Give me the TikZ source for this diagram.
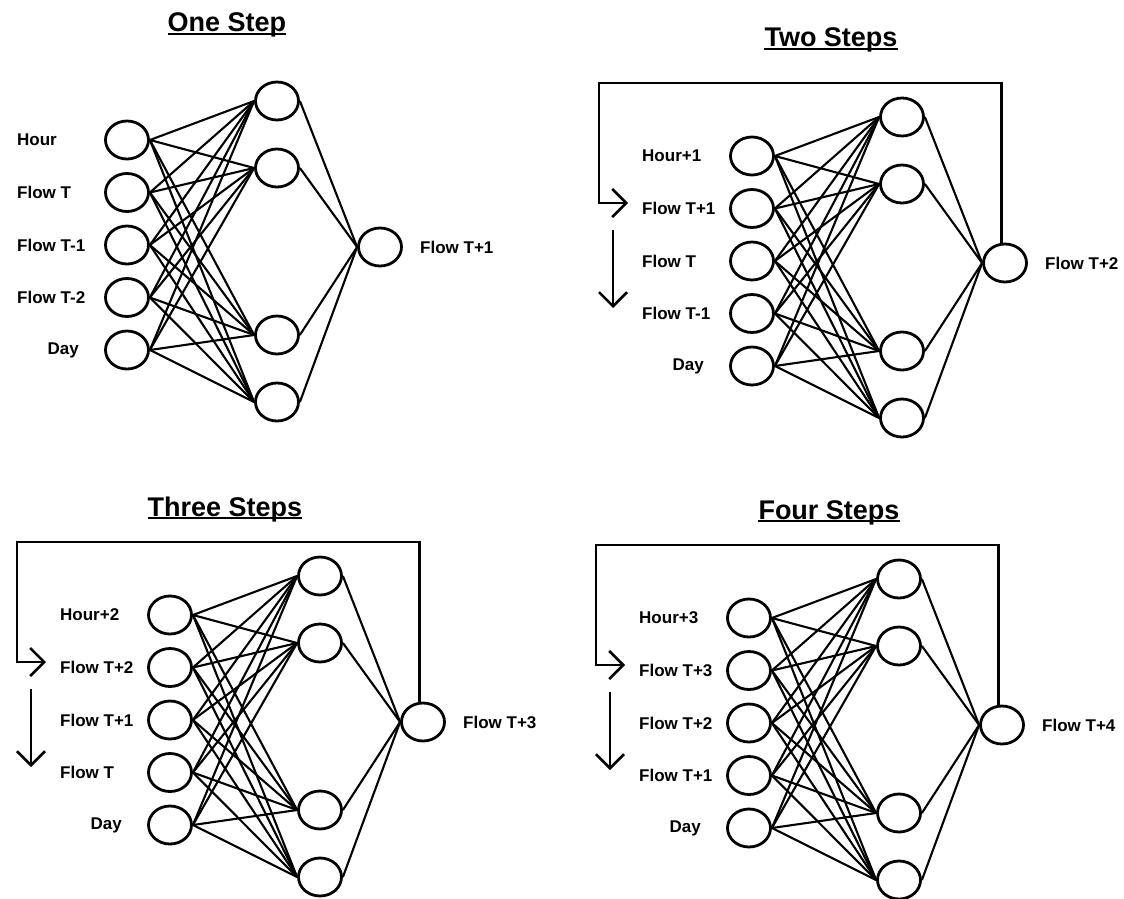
\documentclass[tikz,border=0pt]{standalone}
\usepackage{fontspec}
\setmainfont{Liberation Sans}
\usetikzlibrary{arrows.meta,shapes.geometric}
\tikzset{
  neuron/.style={draw,ellipse,line width=2.8pt,minimum width=43pt,
                 minimum height=38pt,inner sep=0pt},
  netlabel/.style={font=\bfseries\fontsize{17}{19}\selectfont,inner sep=0pt},
  nettitle/.style={font=\bfseries\fontsize{27}{30}\selectfont,inner sep=0pt},
  titlerule/.style={line width=2.6pt},
  weight/.style={line width=2.1pt},
  feedback/.style={line width=2.6pt,
                   -{Straight Barb[length=14pt,width=28pt,line width=2.6pt]}},
}
% one network: prefix, output x, output y, first four inputs, output label
\newcommand{\flownet}[5]{%
  \foreach \lab [count=\k] in {#4} {
    \node[neuron] (#1i\k) at (#2-253,#3-107+52.5*\k-52.5) {};
    \node[netlabel,anchor=west] (#1l\k) at (#2-363,#3-107+52.5*\k-52.5) {\lab};
  }
  \node[neuron] (#1i5) at (#2-253,#3+103) {};
  \node[netlabel,anchor=east] (#1l5) at (#2-301,#3+103) {Day};
  \foreach \dy [count=\k] in {-146,-79,88,155}
    \node[neuron] (#1h\k) at (#2-103,#3+\dy) {};
  \node[neuron] (#1o) at (#2,#3) {};
  \node[netlabel,anchor=west] (#1ol) at (#2+40,#3) {#5};
  \foreach \i in {1,...,5}
    \foreach \j in {1,...,4}
      \draw[weight] (#1i\i.east) -- (#1h\j.west);
  \foreach \j in {1,...,4}
    \draw[weight] (#1h\j.east) -- (#1o.west);
}
% output fed back into the inputs
\newcommand{\feedbackloop}[3]{%
  \coordinate (#1top) at (#2-406,#3-180);
  \coordinate (#1in) at (#2-377,#3-60);
  \coordinate (#1sa) at (#2-392,#3-33);
  \coordinate (#1sb) at (#2-392,#3+45);
  \draw[feedback] (#1o.100) |- (#1top) |- (#1in);
  \draw[feedback] (#1sa) -- (#1sb);
}
% underlined heading
\newcommand{\nettitle}[3]{%
  \node[nettitle,anchor=base] (#1) at (#2) {#3};
  \draw[titlerule] ([yshift=-2pt]#1.base west) -- ([yshift=-2pt]#1.base east);
}

\begin{document}
\begin{tikzpicture}[x=1pt,y=-1pt]
  \useasboundingbox (0,0) rectangle (1124,899);
  \nettitle{tone}{227,32}{One Step}
  \nettitle{ttwo}{831,47}{Two Steps}
  \nettitle{tthree}{225,516}{Three Steps}
  \nettitle{tfour}{829,519}{Four Steps}
  \flownet{a}{380}{247}{Hour,Flow T,Flow T-1,Flow T-2}{Flow T+1}
  \flownet{b}{1005}{263}{Hour+1,Flow T+1,Flow T,Flow T-1}{Flow T+2}
  \flownet{c}{423}{722}{Hour+2,Flow T+2,Flow T+1,Flow T}{Flow T+3}
  \flownet{d}{1002}{725}{Hour+3,Flow T+3,Flow T+2,Flow T+1}{Flow T+4}
  \feedbackloop{b}{1005}{263}
  \feedbackloop{c}{423}{722}
  \feedbackloop{d}{1002}{725}
\end{tikzpicture}
\end{document}
